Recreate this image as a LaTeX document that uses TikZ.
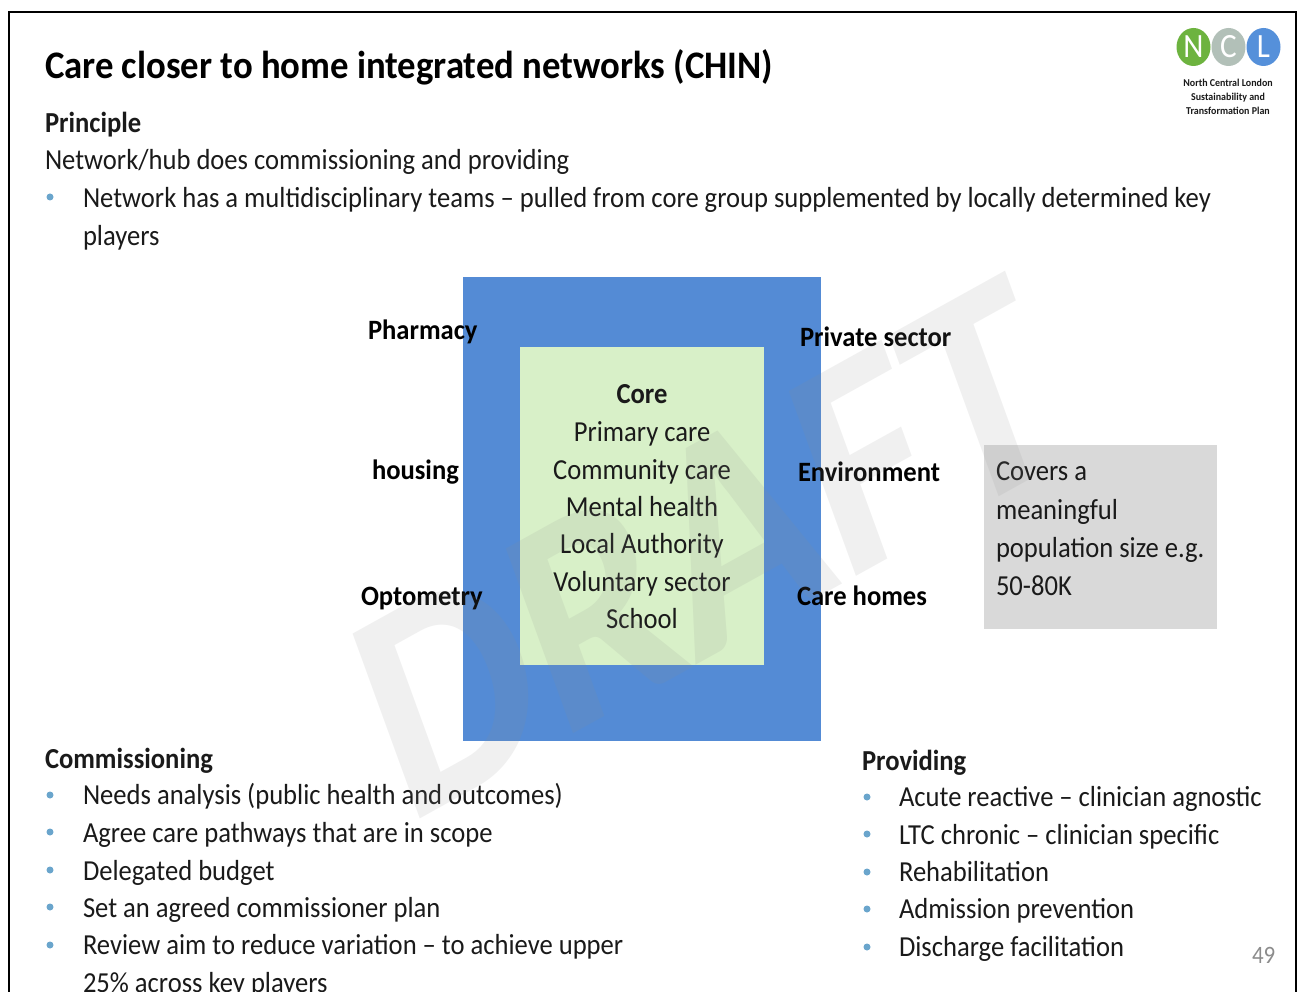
\documentclass[tikz,border=0pt]{standalone}
\usetikzlibrary{shapes.geometric}
\usepackage{fontspec}
\setmainfont[FakeStretch=0.917]{Carlito}
\newfontfamily\titlefont[FakeStretch=0.942]{Carlito}
\newfontfamily\sidefont[FakeStretch=0.95]{Carlito}
\definecolor{bluebox}{HTML}{548BD5}
\definecolor{corebox}{HTML}{D8F0C8}
\definecolor{greybox}{HTML}{D9D9D9}
\definecolor{bulletc}{HTML}{6AA5CC}
\definecolor{txt}{HTML}{1A1A1A}
\definecolor{lgreen}{HTML}{6DB33F}
\definecolor{lgrey}{HTML}{B2C0B8}
\definecolor{lblue}{HTML}{5590DA}
\begin{document}
\begin{tikzpicture}[x=1pt,y=-1pt,
  every node/.style={inner sep=0pt,outer sep=0pt,text=txt},
  body/.style={anchor=base west,font=\fontsize{29}{29}\selectfont},
  head/.style={anchor=base west,font=\fontsize{29}{29}\selectfont\bfseries},
  mid/.style={anchor=base,font=\fontsize{29}{29}\selectfont},
  midb/.style={anchor=base,font=\fontsize{29}{29}\selectfont\bfseries},
  side/.style={anchor=base west,font=\sidefont\fontsize{28}{28}\selectfont\bfseries,text=black},
  dot/.style={circle,fill=bulletc,minimum size=7pt},
  logo/.style={ellipse,minimum width=34pt,minimum height=38pt,text=white,font=\fontsize{34}{34}\selectfont},
  logot/.style={anchor=base,font=\sidefont\fontsize{10.5}{10.5}\selectfont\bfseries}]
\useasboundingbox (0,0) rectangle (1297,992);
\fill[white] (0,0) rectangle (1297,992);
\draw[line width=2.2pt,black] (9,992) -- (9,12) -- (1296,12) -- (1296,992);
% title
\node[anchor=base west,font=\titlefont\fontsize{39}{39}\selectfont\bfseries,text=black] (title) at (45,79) {Care closer to home integrated networks (CHIN)};
% logo
\node[logo,fill=lgreen] (ln) at (1193.5,47) {N};
\node[logo,fill=lgrey] (lc) at (1228.5,47) {C};
\node[logo,fill=lblue] (ll) at (1263.5,47) {L};
\node[logot] (l1) at (1228,87) {North Central London};
\node[logot] (l2) at (1228,101) {Sustainability and};
\node[logot] (l3) at (1228,115) {Transformation Plan};
% principle
\node[head] (pr) at (45,133) {Principle};
\node[body] (p1) at (45,170) {Network/hub does commissioning and providing};
\node[dot] (pd) at (50,197) {};
\node[body] (p2) at (83,208) {Network has a multidisciplinary teams – pulled from core group supplemented by locally determined key};
\node[body] (p3) at (83,245) {players};
% boxes
\fill[bluebox] (463,277) rectangle (821,741);
\fill[corebox] (520,347) rectangle (764,665);
\node[midb] (c0) at (642,403) {Core};
\node[mid] (c1) at (642,441) {Primary care};
\node[mid] (c2) at (642,479) {Community care};
\node[mid] (c3) at (642,516) {Mental health};
\node[mid] (c4) at (642,553) {Local Authority};
\node[mid] (c5) at (642,591) {Voluntary sector};
\node[mid] (c6) at (642,628) {School};
% side labels
\node[side] (s1) at (368,339) {Pharmacy};
\node[side] (s2) at (372,479) {housing};
\node[side] (s3) at (361,605) {Optometry};
\node[side] (s4) at (800,346) {Private sector};
\node[side] (s5) at (798,481) {Environment};
\node[side] (s6) at (797,605) {Care homes};
% grey box
\fill[greybox] (984,445) rectangle (1217,629);
\node[body] (g1) at (996,480) {Covers a};
\node[body] (g2) at (996,519) {meaningful};
\node[body] (g3) at (996,557) {population size e.g.};
\node[body] (g4) at (996,595) {50-80K};
% commissioning
\node[head] (ch) at (45,768) {Commissioning};
\node[dot] (d1) at (50,795) {};
\node[body] (a1) at (83,804) {Needs analysis (public health and outcomes)};
\node[dot] (d2) at (50,832) {};
\node[body] (a2) at (83,842) {Agree care pathways that are in scope};
\node[dot] (d3) at (50,870) {};
\node[body] (a3) at (83,880) {Delegated budget};
\node[dot] (d4) at (50,907) {};
\node[body] (a4) at (83,917) {Set an agreed commissioner plan};
\node[dot] (d5) at (50,945) {};
\node[body] (a5) at (83,954) {Review aim to reduce variation – to achieve upper};
\node[body] (a6) at (83,992) {25\% across key players};
% providing
\node[head] (ph) at (862,770) {Providing};
\node[dot] (e1) at (867,797) {};
\node[body] (b1) at (899,806) {Acute reactive – clinician agnostic};
\node[dot] (e2) at (867,834) {};
\node[body] (b2) at (899,844) {LTC chronic – clinician specific};
\node[dot] (e3) at (867,872) {};
\node[body] (b3) at (899,881) {Rehabilitation};
\node[dot] (e4) at (867,909) {};
\node[body] (b4) at (899,918) {Admission prevention};
\node[dot] (e5) at (867,947) {};
\node[body] (b5) at (899,956) {Discharge facilitation};
\node[anchor=base west,font=\fontsize{25}{25}\selectfont,text=black!45] (pg) at (1252,963) {49};
% watermark
\node[cm={2.65,1.47,-1.036,2.85,(406,826)},transform shape,anchor=base west,font=\fontsize{100}{100}\selectfont\bfseries,text=black!45,text opacity=.13] (wm) at (0,0) {DRAFT};
\end{tikzpicture}
\end{document}
